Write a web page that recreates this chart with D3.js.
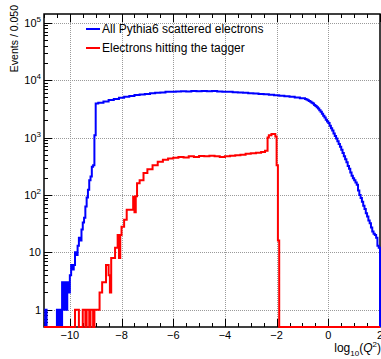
<!DOCTYPE html>
<html><head><meta charset="utf-8">
<script src="https://cdn.jsdelivr.net/npm/d3@7"></script>
<style>
html,body{margin:0;padding:0;background:#fff;}
svg{display:block;}
text{font-family:"Liberation Sans",Arial,Helvetica,sans-serif;fill:#000;}
</style></head>
<body>
<svg id="c" width="381" height="359"></svg>
<script>
// ---- data ----
const xTickValues = [-10, -8, -6, -4, -2, 0, 2];
const xTickLabels = ["\u221210", "\u22128", "\u22126", "\u22124", "\u22122", "0", "2"];
const yTickValues = [1, 10, 100, 1000, 10000, 100000];
const yTickBase = ["1", "10", "10", "10", "10", "10"];
const yTickExp = ["", "", "2", "3", "4", "5"];
const seriesNames = ["All Pythia6 scattered electrons", "Electrons hitting the tagger"];

// blue: bin left edges and contents (last edge closes the histogram)
const blueEdges = [-11.0,-10.95,-10.9,-10.5,-10.45,-10.4,-10.35,-10.3,-10.25,-10.2,-10.15,-10.1,-10.05,-10.0,-9.95,-9.9,-9.85,-9.8,-9.75,-9.7,-9.65,-9.6,-9.55,-9.5,-9.45,-9.4,-9.35,-9.3,-9.25,-9.2,-9.15,-9.1,-9.05,-9.0,-8.9,-8.7,-8.5,-8.3,-8.1,-7.9,-7.7,-7.5,-7.3,-7.1,-6.9,-6.7,-6.5,-6.3,-6.1,-5.9,-5.7,-5.5,-5.3,-5.1,-4.9,-4.7,-4.5,-4.3,-4.1,-3.9,-3.7,-3.5,-3.3,-3.1,-2.9,-2.7,-2.5,-2.3,-2.1,-1.9,-1.7,-1.5,-1.3,-1.1,-0.9,-0.85,-0.8,-0.75,-0.7,-0.65,-0.6,-0.55,-0.5,-0.45,-0.4,-0.35,-0.3,-0.25,-0.2,-0.15,-0.1,-0.05,0.0,0.05,0.1,0.15,0.2,0.25,0.3,0.35,0.4,0.45,0.5,0.55,0.6,0.65,0.7,0.75,0.8,0.85,0.9,0.95,1.0,1.05,1.1,1.15,1.2,1.25,1.3,1.35,1.4,1.45,1.5,1.55,1.6,1.65,1.7,1.75,1.8,1.85,1.9,1.95,2.0];
const blueCounts = [0,1,0,1,0,1,0,3,1,3,1,3,2,4,6,5,6,10,9,13,18,16,25,33,40,63,90,123,180,210,310,330,1100,3900,4050,4250,4500,4700,4950,5150,5300,5500,5600,5750,5900,6000,6100,6250,6300,6350,6400,6350,6450,6400,6450,6400,6450,6350,6300,6250,6150,6100,6000,5900,5850,5750,5650,5550,5450,5350,5250,5150,5000,4850,4700,4600,4450,4350,4200,4050,3900,3700,3550,3380,3200,3000,2800,2600,2400,2230,2050,1900,1800,1600,1450,1320,1180,1060,960,860,770,690,610,540,470,420,370,320,285,245,215,195,180,165,150,120,100,88,76,65,57,48,42,36,32,27,23,21,20,18,13,12];

// red
const redEdges = [-11.0,-9.8,-9.65,-9.5,-9.4,-9.35,-9.25,-9.2,-9.1,-9.05,-8.85,-8.75,-8.6,-8.5,-8.45,-8.4,-8.25,-8.15,-8.1,-8.05,-8.0,-7.9,-7.8,-7.55,-7.5,-7.45,-7.4,-7.3,-7.15,-7.0,-6.8,-6.6,-6.4,-6.2,-6.0,-5.8,-5.6,-5.4,-5.2,-5.0,-4.8,-4.6,-4.4,-4.2,-4.0,-3.8,-3.6,-3.4,-3.2,-3.0,-2.8,-2.6,-2.45,-2.35,-2.3,-2.2,-2.05,-2.0,-1.95,-1.9,2.0];
const redCounts = [0,1,0,1,0,1,0,1,0,1,2,3,6,4,2,8,12,20,8,20,28,37,55,93,50,95,160,180,240,280,330,380,410,430,445,460,450,470,460,475,470,480,470,460,470,480,490,500,520,530,545,560,590,1000,1100,1150,1040,330,16,0];

// ---- layout ----
const L = 44, R = 380, T = 14, B = 327;
const svg = d3.select("#c");
const x = d3.scaleLinear().domain([-11, 2]).range([L, R]);
const y = d3.scaleLog().domain([0.5, 1.42e5]).range([B, T]);
const yv = v => v > 0 ? y(v) : y(0.5);

// grid
const grid = svg.append("g").attr("stroke", "#9a9a9a").attr("stroke-width", 1).attr("stroke-dasharray", "1,1");
xTickValues.filter(v => v > -11 && v < 2).forEach(v => {
  grid.append("line").attr("x1", Math.round(x(v)) + 0.5).attr("x2", Math.round(x(v)) + 0.5).attr("y1", T).attr("y2", B);
});
yTickValues.forEach(v => {
  grid.append("line").attr("x1", L).attr("x2", R).attr("y1", Math.round(y(v)) + 0.5).attr("y2", Math.round(y(v)) + 0.5);
});

// frame
svg.append("rect").attr("x", L).attr("y", T).attr("width", R - L).attr("height", B - T)
  .attr("fill", "none").attr("stroke", "#000").attr("stroke-width", 1.5);

// x ticks (bottom + top)
const tk = svg.append("g").attr("stroke", "#000").attr("stroke-width", 1);
const xMinor = d3.range(-11, 2.001, 0.5);
xMinor.forEach(v => {
  const major = Math.abs(v / 2 - Math.round(v / 2)) < 1e-6;
  const len = major ? 8 : 4;
  const px = Math.round(x(v)) + 0.5;
  tk.append("line").attr("x1", px).attr("x2", px).attr("y1", B).attr("y2", B - len);
  tk.append("line").attr("x1", px).attr("x2", px).attr("y1", T).attr("y2", T + len);
});
// y ticks
for (let d = -1; d <= 5; d++) {
  for (let k = 1; k <= 9; k++) {
    const v = k * Math.pow(10, d);
    if (v < 0.5 || v > 1.42e5) continue;
    const len = k === 1 ? 8 : 4;
    const py = Math.round(y(v)) + 0.5;
    tk.append("line").attr("x1", L).attr("x2", L + len).attr("y1", py).attr("y2", py);
  }
}

// x tick labels
xTickValues.forEach((v, i) => {
  svg.append("text").attr("x", x(v)).attr("y", 339).attr("text-anchor", "middle")
    .attr("font-size", 11).text(xTickLabels[i]);
});
// y tick labels
yTickValues.forEach((v, i) => {
  const t = svg.append("text").attr("x", 41).attr("y", y(v) + 4).attr("text-anchor", "end").attr("font-size", 11);
  t.append("tspan").text(yTickBase[i]);
  if (yTickExp[i]) t.append("tspan").attr("dy", -5).attr("font-size", 8).text(yTickExp[i]);
});

// axis titles
const xt = svg.append("text").attr("x", 381).attr("y", 352).attr("text-anchor", "end").attr("font-size", 12);
xt.append("tspan").text("log");
xt.append("tspan").attr("dy", 4).attr("font-size", 8).text("10");
xt.append("tspan").attr("dy", -4).text("(");
xt.append("tspan").attr("font-style", "italic").text("Q");
xt.append("tspan").attr("dy", -5).attr("font-size", 8).text("2");
xt.append("tspan").attr("dy", 5).text(")");

svg.append("text").attr("transform", "translate(18,5) rotate(-90)").attr("text-anchor", "end")
  .attr("font-size", 10.5).text("Events / 0.050");

// histograms
function histPath(edges, counts) {
  const pts = counts.map((c, i) => [edges[i], c]);
  pts.push([edges[edges.length - 1], counts[counts.length - 1]]);
  pts.push([edges[edges.length - 1], 0]);
  return d3.line().x(d => x(d[0])).y(d => yv(d[1])).curve(d3.curveStepAfter)(pts);
}
svg.append("path").attr("d", histPath(blueEdges, blueCounts)).attr("fill", "none")
  .attr("stroke", "#0000ff").attr("stroke-width", 2);
svg.append("path").attr("d", histPath(redEdges, redCounts)).attr("fill", "none")
  .attr("stroke", "#ff0000").attr("stroke-width", 2);

// legend
const colors = ["#0000ff", "#ff0000"];
const legY = [29, 48];
seriesNames.forEach((n, i) => {
  svg.append("line").attr("x1", 86).attr("x2", 100).attr("y1", legY[i]).attr("y2", legY[i])
    .attr("stroke", colors[i]).attr("stroke-width", 2);
  svg.append("text").attr("x", 102).attr("y", legY[i] + 4).attr("font-size", 12).text(n);
});
</script>
</body></html>
